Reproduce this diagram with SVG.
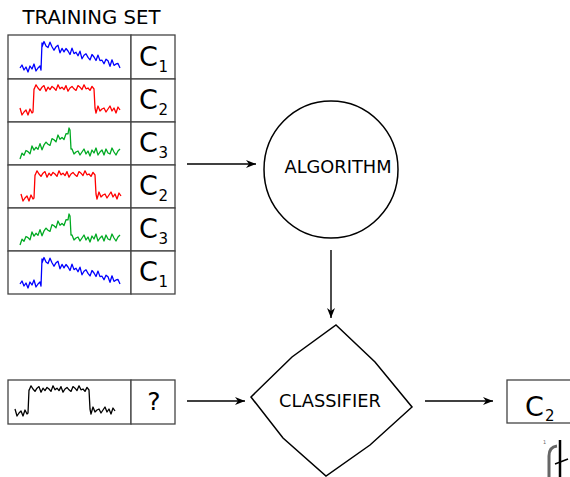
<svg xmlns="http://www.w3.org/2000/svg" xmlns:xlink="http://www.w3.org/1999/xlink" width="570" height="477" viewBox="0 0 570 477">
<style>
text{font-family:"DejaVu Sans","Liberation Sans",sans-serif;fill:#000}
.cell{fill:#fff;stroke:#444;stroke-width:1.3}
.wave{fill:none;stroke-width:1.3;stroke-linejoin:round}
.conn{fill:none;stroke:#000;stroke-width:1.4;marker-end:url(#ah)}
.shape{fill:#fff;stroke:#000;stroke-width:1.5}
.c{font-size:27px}
.sub{font-size:15px}
.lbl{font-size:17.8px;text-anchor:middle}
</style>
<defs>
<marker id="ah" markerUnits="userSpaceOnUse" markerWidth="14" markerHeight="10" viewBox="-10 -5 12 10" refX="0" refY="0" orient="auto">
<path d="M0,0 L-10,-4 L-7,0 L-10,4 z" fill="#000"/>
</marker>
<path id="wBlue" d="M0,33 L2,30 L4,35 L6,32 L8,37 L10,31 L12,34 L14,29 L16,36 L18,33 L20,31 L21,35 L22,8 L22,12 L24,6.5 L26,11 L28,12.6 L30,7.2 L32,11.7 L34,15.2 L36,11.8 L38,10.3 L40,17.8 L42,13.4 L44,16.9 L46,13.5 L48,16 L50,19.5 L52,13.1 L54,18.6 L56,17.2 L58,20.7 L60,16.2 L62,23.8 L64,20.3 L66,18.8 L68,22.4 L70,24.9 L72,19.5 L74,22 L76,25.5 L78,20.1 L80,25.6 L82,25.2 L84,28.7 L86,24.2 L88,25.8 L90,31.3 L92,24.8 L94,30.4 L96,28.9 L98,28.5 L100,33"/>
<path id="wRed" d="M0,29 L2,36 L4,33 L6,31 L8,36 L10,30 L12,34 L13,33 L14,10 L14,10.6 L16,5.8 L18,9 L20,11.4 L22,8.2 L24,6.6 L26,12.2 L28,8.2 L30,10.6 L32,7.4 L34,9 L36,11.4 L38,5.8 L40,9.8 L42,8.2 L44,10.6 L46,6.6 L48,12.2 L50,9 L52,7.4 L54,9.8 L56,11.4 L58,6.6 L60,8.2 L62,10.6 L64,5.8 L66,9.8 L68,9 L70,11.4 L72,7.4 L74,10 L75,29 L76,34 L78,27 L80,32 L82,30 L84,29 L86,33 L88,30 L90,27 L92,32 L94,29 L96,34 L98,28 L100,31"/>
<path id="wGreen" d="M0,37 L2,31.2 L4,33.3 L6,28.5 L8,29.6 L10,31.8 L12,24 L14,28.1 L16,25.3 L18,27.4 L20,21.6 L22,27.8 L24,22.9 L26,20.1 L28,22.2 L30,23.4 L32,16.6 L34,17.7 L36,19.9 L38,13 L40,17.2 L42,15.4 L44,17.5 L46,11.7 L48,11.8 L49,6 L50,8 L51,27 L52,27 L54,32 L56,30 L58,29 L60,33 L62,30 L64,27 L66,32 L68,29 L70,34 L72,28 L74,31 L76,26 L78,33 L80,30 L82,28 L84,33 L86,27 L88,31 L90,32 L92,26 L94,30 L96,33 L98,29 L100,27"/>
</defs>
<rect width="570" height="477" fill="#fff"/>

<g id="training-set">
<text x="91.5" y="24" font-size="19.7" text-anchor="middle">TRAINING SET</text>
<g id="row1">
<rect class="cell" x="8" y="35" width="123" height="44"/><rect class="cell" x="131" y="35" width="44" height="44"/>
<use xlink:href="#wBlue" class="wave" stroke="#0000ff" transform="translate(20,35)"/>
<text class="c" x="139" y="66">C</text><text class="sub" x="158.5" y="72">1</text>
</g>
<g id="row2">
<rect class="cell" x="8" y="79" width="123" height="43"/><rect class="cell" x="131" y="79" width="44" height="43"/>
<use xlink:href="#wRed" class="wave" stroke="#ff0000" transform="translate(20,79)"/>
<text class="c" x="139" y="109">C</text><text class="sub" x="158.5" y="115">2</text>
</g>
<g id="row3">
<rect class="cell" x="8" y="122" width="123" height="43"/><rect class="cell" x="131" y="122" width="44" height="43"/>
<use xlink:href="#wGreen" class="wave" stroke="#00aa22" transform="translate(20,122)"/>
<text class="c" x="139" y="152">C</text><text class="sub" x="158.5" y="158">3</text>
</g>
<g id="row4">
<rect class="cell" x="8" y="165" width="123" height="43"/><rect class="cell" x="131" y="165" width="44" height="43"/>
<use xlink:href="#wRed" class="wave" stroke="#ff0000" transform="translate(21,165)"/>
<text class="c" x="139" y="195">C</text><text class="sub" x="158.5" y="201">2</text>
</g>
<g id="row5">
<rect class="cell" x="8" y="208" width="123" height="43"/><rect class="cell" x="131" y="208" width="44" height="43"/>
<use xlink:href="#wGreen" class="wave" stroke="#00aa22" transform="translate(20,208)"/>
<text class="c" x="139" y="238">C</text><text class="sub" x="158.5" y="244">3</text>
</g>
<g id="row6">
<rect class="cell" x="8" y="251" width="123" height="43"/><rect class="cell" x="131" y="251" width="44" height="43"/>
<use xlink:href="#wBlue" class="wave" stroke="#0000ff" transform="translate(20,251)"/>
<text class="c" x="139" y="281">C</text><text class="sub" x="158.5" y="287">1</text>
</g>
</g>

<g id="query">
<rect class="cell" x="8" y="380" width="123" height="44"/><rect class="cell" x="131" y="380" width="44" height="44"/>
<use xlink:href="#wRed" class="wave" stroke="#000" stroke-width="1" transform="translate(15,380)"/>
<text x="154" y="410" font-size="25" text-anchor="middle">?</text>
</g>

<g id="algorithm">
<ellipse class="shape" cx="331" cy="169.5" rx="67" ry="68.5"/>
<text class="lbl" x="338" y="173" font-size="18">ALGORITHM</text>
</g>

<g id="classifier">
<polygon class="shape" points="336,325 375,362 412,407 370,445 326,476 283,438 251,397 292,357"/>
<text class="lbl" x="330" y="407">CLASSIFIER</text>
</g>

<g id="result">
<rect class="cell" x="507" y="380" width="70" height="43"/>
<text class="c" x="525" y="416">C</text><text class="sub" x="545" y="421">2</text>
</g>

<g id="connectors">
<path class="conn" d="M187,164 L256,164"/>
<path class="conn" d="M331,250 L331,318"/>
<path class="conn" d="M187,401 L245,401"/>
<path class="conn" d="M425,401 L493,401"/>
</g>

<g id="fragment">
<text x="543" y="444" font-size="5" style="fill:#666">1</text>
<path d="M549,477 L549,456 Q549,447 557,446" fill="none" stroke="#666" stroke-width="3"/>
<path d="M560,440 L560,477" stroke="#000" stroke-width="2.5"/>
<path d="M555,464 L568,459" stroke="#000" stroke-width="1.5"/>
</g>
</svg>
